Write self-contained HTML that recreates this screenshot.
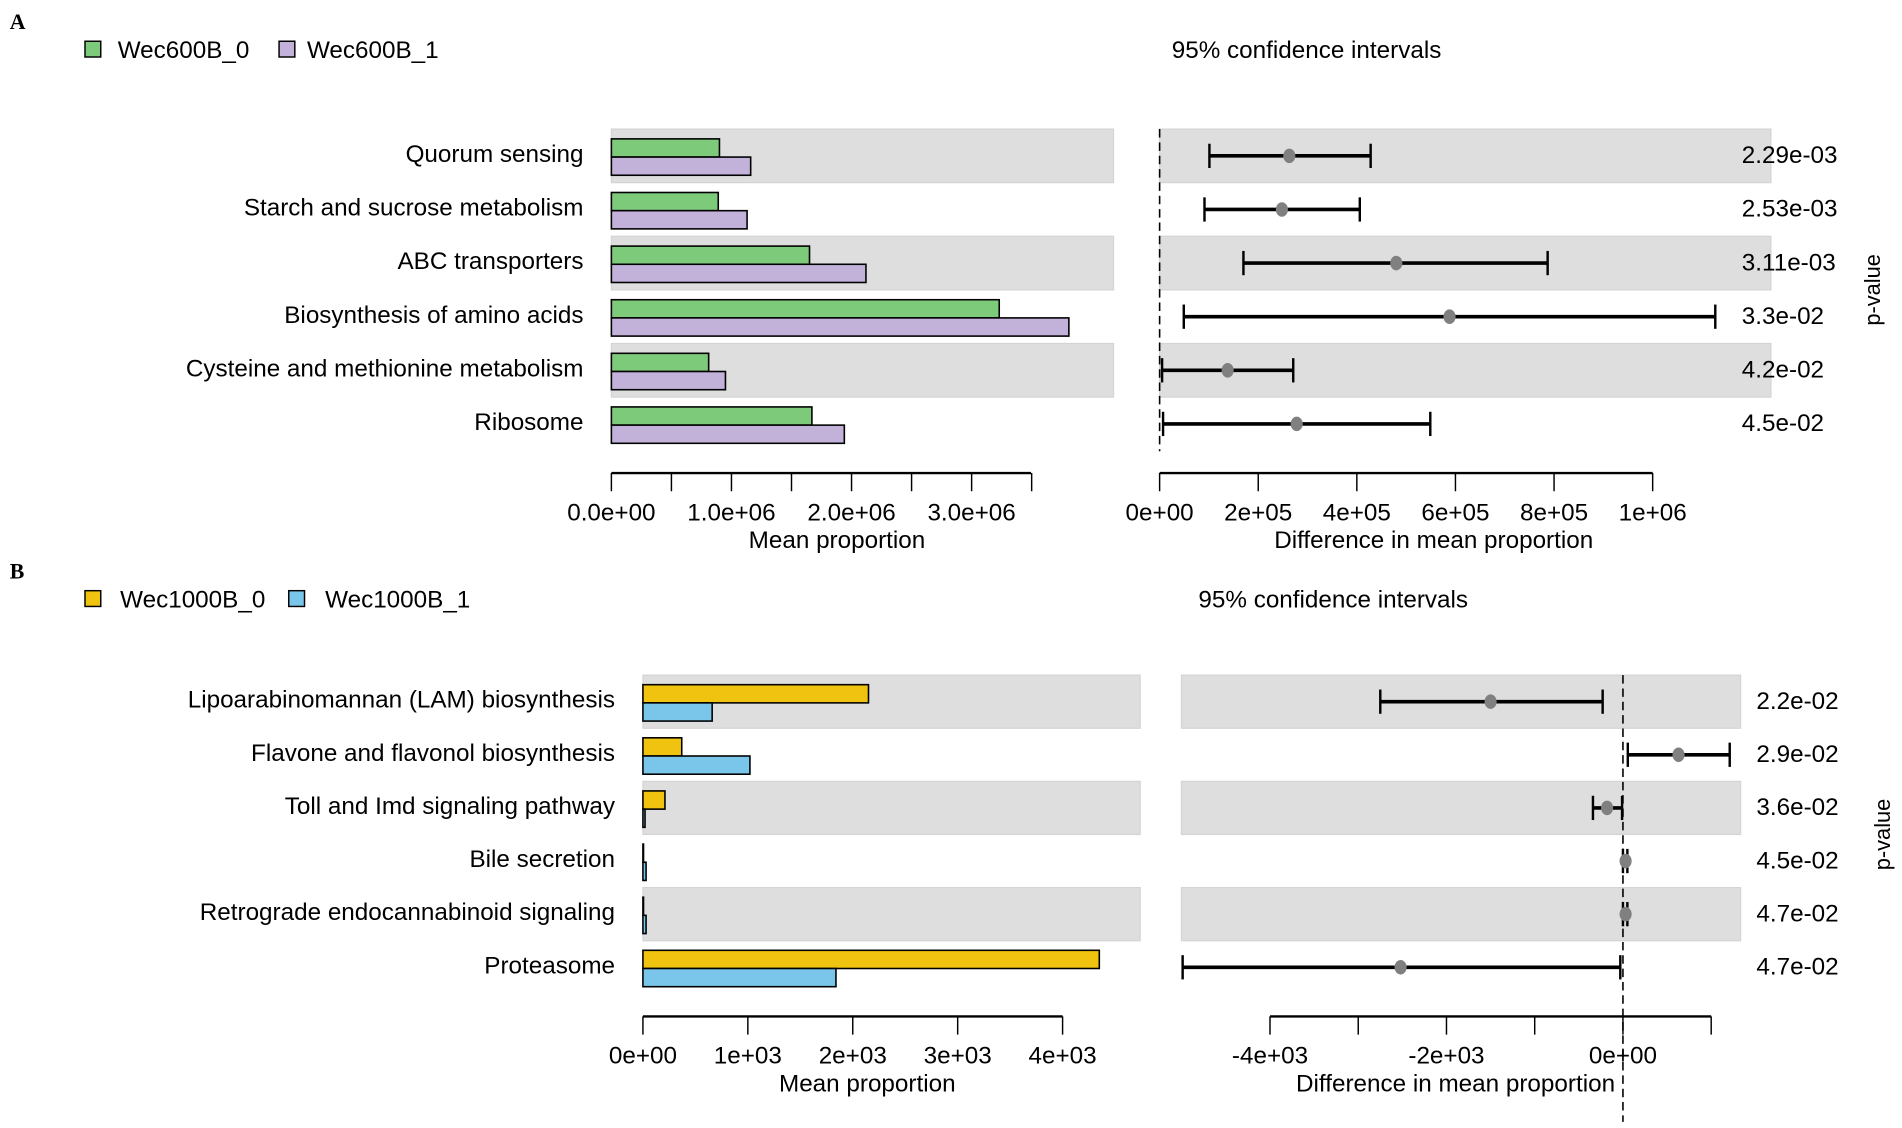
<!DOCTYPE html>
<html><head><meta charset="utf-8"><style>
html,body{margin:0;padding:0;background:#fff;}
svg{display:block;font-family:"Liberation Sans",Arial,sans-serif;}
</style></head><body>
<svg id="fig" width="1902" height="1128" viewBox="0 0 1568 930" xmlns="http://www.w3.org/2000/svg"></svg>
<script>
// Panel A data
const catsA = ["Quorum sensing","Starch and sucrose metabolism","ABC transporters","Biosynthesis of amino acids","Cysteine and methionine metabolism","Ribosome"];
const grpA0 = [0.90e6,0.89e6,1.65e6,3.23e6,0.81e6,1.67e6];
const grpA1 = [1.16e6,1.13e6,2.12e6,3.81e6,0.95e6,1.94e6];
const diffA = [2.63e5,2.48e5,4.80e5,5.88e5,1.38e5,2.78e5];
const loA = [1.01e5,0.91e5,1.70e5,0.49e5,0.05e5,0.07e5];
const hiA = [4.28e5,4.06e5,7.87e5,11.27e5,2.71e5,5.49e5];
const pA = ["2.29e-03","2.53e-03","3.11e-03","3.3e-02","4.2e-02","4.5e-02"];
const ticksA = ["0.0e+00","1.0e+06","2.0e+06","3.0e+06"];
const ticksAR = ["0e+00","2e+05","4e+05","6e+05","8e+05","1e+06"];
// Panel B data
const catsB = ["Lipoarabinomannan (LAM) biosynthesis","Flavone and flavonol biosynthesis","Toll and Imd signaling pathway","Bile secretion","Retrograde endocannabinoid signaling","Proteasome"];
const grpB0 = [2150,370,210,5,5,4350];
const grpB1 = [660,1020,20,30,30,1840];
const diffB = [-1500,630,-180,30,30,-2520];
const loB = [-2750,55,-340,0,0,-4990];
const hiB = [-230,1210,-10,50,50,-30];
const pB = ["2.2e-02","2.9e-02","3.6e-02","4.5e-02","4.7e-02","4.7e-02"];
const ticksB = ["0e+00","1e+03","2e+03","3e+03","4e+03"];
const ticksBR = ["-4e+03","-2e+03","0e+00"];

const FS = 20;
const svg = document.getElementById('fig');
const NS = "http://www.w3.org/2000/svg";
function mk(tag, attrs, parent){const e=document.createElementNS(NS,tag);for(const k in attrs)e.setAttribute(k,attrs[k]);(parent||svg).appendChild(e);return e;}
function txt(s, attrs, parent){const e=mk('text',attrs,parent);e.textContent=s;return e;}

function panel(cfg){
  const g = mk('g',{});
  
  
  const L = txt(cfg.letter,{x:8,y:cfg.top+24,'font-family':'Liberation Serif, serif','font-weight':'bold','font-size':18},g);
  
  
  const legY = cfg.top+41;
  cfg.legend.forEach((lg,i)=>{
    const r = mk('rect',{x:lg.x,y:legY-7,width:13,height:13,fill:lg.color,stroke:'#000','stroke-width':1.2},g);
    
    
    const t = txt(lg.label,{x:lg.tx,y:legY+7,'font-size':FS},g);
    
    
  });
  const ci = txt("95% confidence intervals",{x:cfg.ciTitleX,y:legY+7,'font-size':FS},g);
  
  

  const n = cfg.cats.length;
  const rowY = i => cfg.row0 + i*cfg.rowH;
  const xl = v => cfg.lx0 + v*cfg.lscale;
  const xr = v => cfg.rx0 + v*cfg.rscale;
  for(let i=0;i<n;i+=2){
    const b1=mk('rect',{x:cfg.lx0,y:rowY(i)-cfg.rowH/2,width:cfg.lbandW,height:cfg.rowH,fill:'#dedede',stroke:'#d4d4d4','stroke-width':1},g);
    
    
    const b2=mk('rect',{x:cfg.rbandX,y:rowY(i)-cfg.rowH/2,width:cfg.rbandW,height:cfg.rowH,fill:'#dedede',stroke:'#d4d4d4','stroke-width':1},g);
    
    
  }
  const zx = xr(0);
  const dl = mk('line',{x1:zx,y1:rowY(0)-cfg.rowH/2,x2:zx,y2:cfg.dashEnd,stroke:'#000','stroke-width':1.3,'stroke-dasharray':'7,4'},g);
  
  
  for(let i=0;i<n;i++){
    const y=rowY(i);
    const lab = txt(cfg.cats[i],{x:cfg.lx0-23,y:y+5,'font-size':FS,'text-anchor':'end'},g);
    
    
    const b0 = mk('rect',{x:cfg.lx0,y:y-14,width:Math.max(0.5,xl(cfg.g0[i])-cfg.lx0),height:15,fill:cfg.legend[0].color,stroke:'#000','stroke-width':1.3},g);
    
    
    const b1 = mk('rect',{x:cfg.lx0,y:y+1,width:Math.max(0.5,xl(cfg.g1[i])-cfg.lx0),height:15,fill:cfg.legend[1].color,stroke:'#000','stroke-width':1.3},g);
    
    
    const x1=xr(cfg.lo[i]), x2=xr(cfg.hi[i]);
    const eb = mk('line',{x1:x1,y1:y,x2:x2,y2:y,stroke:'#000','stroke-width':3},g);
    
    
    const c1 = mk('line',{x1:x1,y1:y-10,x2:x1,y2:y+10,stroke:'#000','stroke-width':2},g);
    
    
    const c2 = mk('line',{x1:x2,y1:y-10,x2:x2,y2:y+10,stroke:'#000','stroke-width':2},g);
    
    
    const pt = mk('ellipse',{cx:xr(cfg.diff[i]),cy:y,rx:5,ry:6,fill:'#808080'},g);
    
    
    const pv = txt(cfg.p[i],{x:cfg.pX,y:y+6,'font-size':FS},g);
    
    
  }
  const ay=cfg.axisY;
  const la = mk('line',{x1:cfg.lx0,y1:ay,x2:cfg.lAxisEnd,y2:ay,stroke:'#000','stroke-width':2},g);
  
  
  for(let k=0;k<=cfg.lMinor;k++){
    const tx=xl(k*cfg.lMinorStep);
    const t=mk('line',{x1:tx,y1:ay,x2:tx,y2:ay+15,stroke:'#000','stroke-width':1.2},g);
    
    
  }
  cfg.lt.forEach((s,k)=>{
    const t=txt(s,{x:xl(k*cfg.ltStep),y:ay+39,'font-size':FS,'text-anchor':'middle'},g);
    
    
  });
  const lt=txt("Mean proportion",{x:cfg.lTitleX,y:ay+62,'font-size':FS,'text-anchor':'middle'},g);
  
  
  const ra = mk('line',{x1:xr(cfg.rAxisFrom),y1:ay,x2:xr(cfg.rAxisTo),y2:ay,stroke:'#000','stroke-width':2},g);
  
  
  for(let v=cfg.rAxisFrom; v<=cfg.rAxisTo+1e-9; v+=cfg.rTickStep){
    const t=mk('line',{x1:xr(v),y1:ay,x2:xr(v),y2:ay+15,stroke:'#000','stroke-width':1.2},g);
    
    
  }
  cfg.rt.forEach((s,k)=>{
    const t=txt(s,{x:xr(cfg.rtFrom+k*cfg.rtStep),y:ay+39,'font-size':FS,'text-anchor':'middle'},g);
    
    
  });
  const rt=txt("Difference in mean proportion",{x:cfg.rTitleX,y:ay+62,'font-size':FS,'text-anchor':'middle'},g);
  
  
  const pvl=txt("p-value",{x:0,y:0,'font-size':18,'text-anchor':'middle',transform:`translate(${cfg.pLabX},${rowY(2.5)}) rotate(-90)`},g);
  
  
}

panel({name:'panel-a',letter:'A',top:0,
  legend:[{x:70,tx:97,color:'#7dca7b',label:'Wec600B_0'},{x:230,tx:253,color:'#c2b1d8',label:'Wec600B_1'}],
  ciTitleX:966, cats:catsA, g0:grpA0, g1:grpA1, diff:diffA, lo:loA, hi:hiA, p:pA,
  row0:128.5,rowH:44.2, lx0:504, lscale:99/1e6, lbandW:414, rx0:956, rscale:40.65/1e5,
  rbandX:956, rbandW:504, dashEnd:372, pX:1436, axisY:390, lAxisEnd:850,
  lMinor:7, lMinorStep:0.5e6, lt:ticksA, ltStep:1e6, lTitleX:690,
  rAxisFrom:0, rAxisTo:1e6, rTickStep:2e5, rt:ticksAR, rtFrom:0, rtStep:2e5, rTitleX:1182, pLabX:1550});

panel({name:'panel-b',letter:'B',top:453,
  legend:[{x:70,tx:99,color:'#efc30f',label:'Wec1000B_0'},{x:238,tx:268,color:'#79c6ea',label:'Wec1000B_1'}],
  ciTitleX:988, cats:catsB, g0:grpB0, g1:grpB1, diff:diffB, lo:loB, hi:hiB, p:pB,
  row0:578.5,rowH:43.8, lx0:530, lscale:86.5/1e3, lbandW:410, rx0:1338, rscale:72.75/1e3,
  rbandX:974, rbandW:461, dashEnd:925, pX:1448, axisY:838, lAxisEnd:876,
  lMinor:4, lMinorStep:1e3, lt:ticksB, ltStep:1e3, lTitleX:715,
  rAxisFrom:-4000, rAxisTo:1000, rTickStep:1000, rt:ticksBR, rtFrom:-4000, rtStep:2000, rTitleX:1200, pLabX:1558});
</script>
</body></html>
